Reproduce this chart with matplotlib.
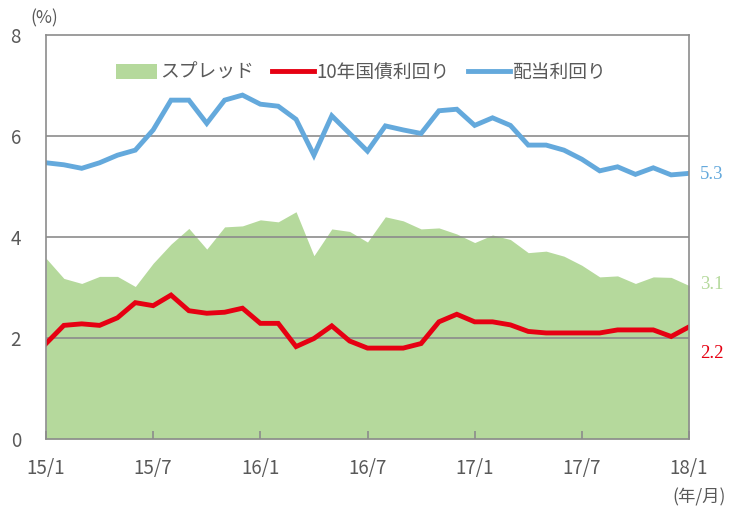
import matplotlib
matplotlib.use("Agg")
import matplotlib.pyplot as plt
import numpy as np

plt.rcParams['font.family'] = ['Noto Sans CJK JP', 'DejaVu Sans']

months = list(range(37))
xtick_pos = [0, 6, 12, 18, 24, 30, 36]
xtick_labels = ['15/1', '15/7', '16/1', '16/7', '17/1', '17/7', '18/1']

dividend = [5.47, 5.43, 5.36, 5.47, 5.62, 5.72, 6.12, 6.71, 6.71, 6.25,
            6.71, 6.81, 6.63, 6.59, 6.33, 5.62, 6.40, 6.05, 5.70, 6.20,
            6.12, 6.05, 6.50, 6.53, 6.21, 6.36, 6.21, 5.82, 5.82, 5.72,
            5.54, 5.31, 5.39, 5.24, 5.37, 5.23, 5.26]
bond = [1.89, 2.25, 2.28, 2.25, 2.40, 2.70, 2.64, 2.85, 2.54, 2.49,
        2.51, 2.59, 2.29, 2.29, 1.83, 1.99, 2.24, 1.94, 1.80, 1.80,
        1.80, 1.89, 2.32, 2.47, 2.32, 2.32, 2.26, 2.13, 2.10, 2.10,
        2.10, 2.10, 2.16, 2.16, 2.16, 2.03, 2.22]
spread = [3.58, 3.18, 3.08, 3.22, 3.22, 3.02, 3.48, 3.86, 4.17, 3.76,
          4.20, 4.22, 4.34, 4.30, 4.50, 3.63, 4.16, 4.11, 3.90, 4.40,
          4.32, 4.16, 4.18, 4.06, 3.89, 4.04, 3.95, 3.69, 3.72, 3.62,
          3.44, 3.21, 3.23, 3.08, 3.21, 3.20, 3.04]

green = '#B5D99C'
red = '#E60012'
blue = '#64A9DC'
gray = '#8C8C8C'
text_gray = '#595959'

fig = plt.figure(figsize=(7.29, 5.09), dpi=100)
ax = fig.add_axes([46/729, 70/509, 643/729, 404/509])

ax.fill_between(months, 0, spread, color=green, linewidth=0, label='スプレッド', zorder=1)
ax.plot(months, bond, color=red, lw=3.5, label='10年国債利回り', zorder=3, solid_joinstyle='miter')
ax.plot(months, dividend, color=blue, lw=3.5, label='配当利回り', zorder=3, solid_joinstyle='miter')

ax.set_xlim(0, 36)
ax.set_ylim(0, 8)
ax.set_yticks([0, 2, 4, 6, 8])
ax.set_yticklabels(['0', '2', '4', '6', '8'])
ax.set_xticks(xtick_pos)
ax.set_xticklabels(xtick_labels)
for y in [2, 4, 6]:
    ax.axhline(y, color=gray, lw=1.2, zorder=2)

for s in ax.spines.values():
    s.set_color(gray)
    s.set_linewidth(1.2)
    s.set_zorder(4)

ax.tick_params(axis='x', direction='in', length=6, color=gray, width=1.2,
               labelsize=13.5, labelcolor=text_gray, pad=14)
ax.tick_params(axis='y', length=0, labelsize=13.5, labelcolor=text_gray, pad=18)
for t in ax.get_xticklabels() + ax.get_yticklabels():
    t.set_zorder(5)

leg = ax.legend(loc='upper center', bbox_to_anchor=(0.49, 0.975), ncol=3, frameon=False,
                fontsize=13.5, handlelength=2.2, handleheight=0.9, columnspacing=1.0,
                handletextpad=0.15, labelcolor=text_gray)

fig.text(30/729, 1 - 18/509, '(%)', fontsize=12.5, color=text_gray, ha='left', va='center')
fig.text(726/729, 1 - 497/509, '(年/月)', fontsize=12.5, color=text_gray, ha='right', va='center')

ax.annotate('5.3', xy=(1, dividend[-1]), xycoords=('axes fraction', 'data'),
            xytext=(8, -1), textcoords='offset points', color=blue, fontsize=13.5,
            va='center', ha='left', family=['Liberation Serif', 'DejaVu Serif'])
ax.annotate('3.1', xy=(1, spread[-1]), xycoords=('axes fraction', 'data'),
            xytext=(8, 1), textcoords='offset points', color=green, fontsize=13.5,
            va='center', ha='left', family=['Liberation Serif', 'DejaVu Serif'])
ax.annotate('2.2', xy=(1, bond[-1]), xycoords=('axes fraction', 'data'),
            xytext=(8, -19), textcoords='offset points', color=red, fontsize=13.5,
            va='center', ha='left', family=['Liberation Serif', 'DejaVu Serif'])

fig.savefig('out.png', dpi=100)
